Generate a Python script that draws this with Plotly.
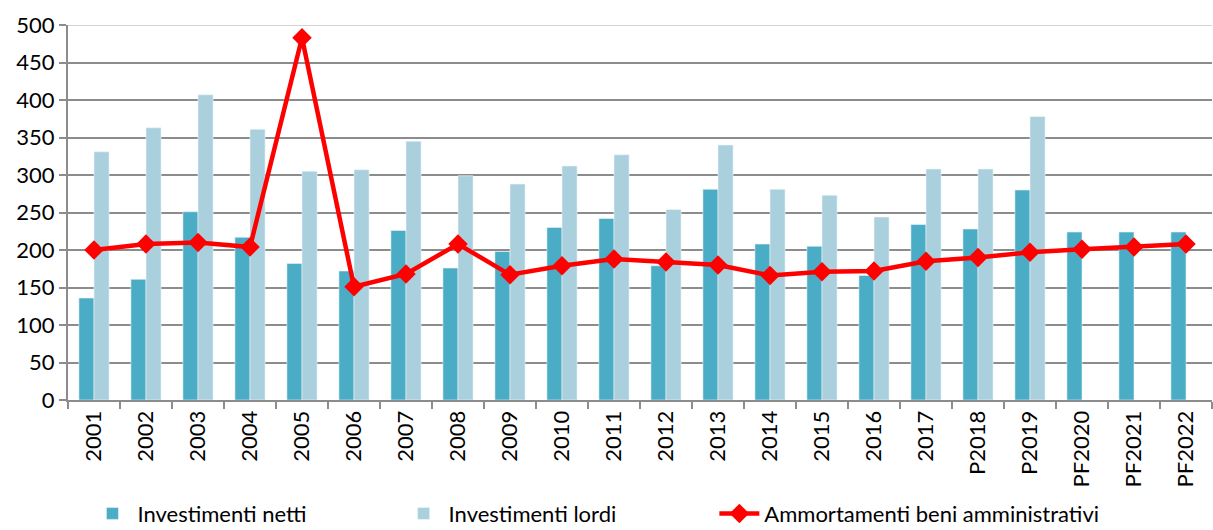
import plotly.graph_objects as go

categories = ["2001", "2002", "2003", "2004", "2005", "2006", "2007", "2008", "2009", "2010",
              "2011", "2012", "2013", "2014", "2015", "2016", "2017", "P2018", "P2019",
              "PF2020", "PF2021", "PF2022"]
netti = [136, 161, 251, 217, 182, 172, 226, 176, 198, 230, 242, 179, 281, 208, 205, 166, 234,
         228, 280, 224, 224, 224]
lordi = [331, 363, 407, 361, 305, 307, 345, 299, 288, 312, 327, 254, 340, 281, 273, 244, 308,
         308, 378, None, None, None]
ammortamenti = [200, 208, 210, 204, 483, 151, 168, 208, 167, 179, 188, 184, 180, 166, 171, 172,
                185, 190, 197, 201, 204, 208]

FONT = "Lato"

fig = go.Figure()
fig.add_trace(go.Bar(x=categories, y=netti, name="Investimenti netti", legend="legend",
                     marker=dict(color="#4bacc6", line=dict(color="#e8f4f8", width=0.6))))
fig.add_trace(go.Bar(x=categories, y=lordi, name="Investimenti lordi", legend="legend2",
                     marker=dict(color="#aacfdd", line=dict(color="#eef6f9", width=0.6))))
fig.add_trace(go.Scatter(x=categories, y=ammortamenti, name="Ammortamenti beni amministrativi",
                         legend="legend3",
                         mode="lines+markers",
                         line=dict(color="#ff0000", width=4.5),
                         marker=dict(symbol="diamond", size=15, color="#ff0000")))

leg_common = dict(orientation="h", y=-0.359, yanchor="bottom", xanchor="left",
                  font=dict(family=FONT, size=22, color="black"),
                  itemwidth=40, bgcolor="rgba(0,0,0,0)")

fig.update_layout(
    width=1213, height=530,
    margin=dict(l=68, r=1, t=25, b=130, autoexpand=False),
    paper_bgcolor="white", plot_bgcolor="white",
    barmode="group", bargap=0.42, bargroupgap=0,
    font=dict(family=FONT, size=21, color="black"),
    showlegend=True,
    legend=dict(x=0.017, **leg_common),
    legend2=dict(x=0.289, **leg_common),
    legend3=dict(x=0.565, **leg_common),
    shapes=[dict(type="line", xref="paper", yref="y", x0=0, x1=1, y0=500, y1=500,
                 line=dict(color="#c4c4c4", width=1.5), layer="below")],
)
fig.update_xaxes(
    type="category",
    range=[-0.5, len(categories) - 0.5],
    tickangle=-90,
    automargin=False,
    showline=True, linecolor="#8c8c8c", linewidth=2,
    ticks="outside", tickson="boundaries", ticklen=7, tickcolor="#8c8c8c", tickwidth=1.5,
    showgrid=False,
    tickfont=dict(family=FONT, size=22, color="black"),
)
fig.update_yaxes(
    range=[0, 500], dtick=50, tick0=0,
    automargin=False,
    showgrid=True, gridcolor="#8c8c8c", gridwidth=1.5,
    showline=True, linecolor="#8c8c8c", linewidth=2,
    ticks="outside", ticklen=7, tickcolor="#8c8c8c", tickwidth=1.5,
    zeroline=False,
    tickfont=dict(family=FONT, size=22, color="black"),
)

fig.write_html("out.html", config={"displayModeBar": False},
               post_script="document.body.style.margin='0px';")
